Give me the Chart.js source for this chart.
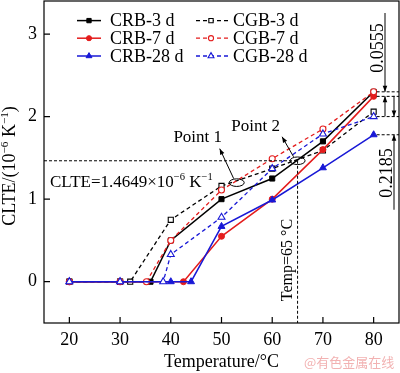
<!DOCTYPE html>
<html>
<head>
<meta charset="utf-8">
<script src="https://cdn.jsdelivr.net/npm/chart.js@4.4.0/dist/chart.umd.min.js"></script>
<style>html,body{margin:0;padding:0;background:#fff}canvas{display:block}</style>
</head>
<body>
<canvas id="chart" width="400" height="373"></canvas>
<script>
// temperatures (°C) and CLTE values (10^-6 K^-1)
const crb3T = [20, 30, 36, 40, 50, 60, 70, 80];
const crb3 = [0, 0, 0, 0.5, 1.0, 1.25, 1.70, 2.30];
const crb7T = [20, 30, 42.5, 50, 60, 70, 80];
const crb7 = [0, 0, 0, 0.55, 1.0, 1.60, 2.245];
const crb28T = [20, 30, 40, 44, 50, 60, 70, 80];
const crb28 = [0, 0, 0, 0, 0.67, 0.99, 1.38, 1.78];
const cgb3T = [20, 30, 32, 40, 50, 60, 70, 80];
const cgb3 = [0, 0, 0, 0.75, 1.16, 1.37, 1.59, 2.06];
const cgb7T = [20, 30, 35.2, 40, 50, 60, 70, 80];
const cgb7 = [0, 0, 0, 0.5, 1.11, 1.49, 1.85, 2.30];
const cgb28T = [20, 30, 38.5, 40, 50, 60, 70, 80];
const cgb28 = [0, 0, 0, 0.33, 0.78, 1.37, 1.79, 2.0];

const xTicks = [20, 30, 40, 50, 60, 70, 80];
const yTicks = [0, 1, 2, 3];

const clteValue = 1.4649;
const tempValue = 65;
const point1 = {x: 53, y: 1.2};

const BLACK = '#000';
const RED = 'rgb(228,28,28)';
const BLUE = 'rgb(24,24,214)';
const serif = '"Liberation Serif", "Times New Roman", serif';

function pts(xs, ys) {
    return xs.map((v, i) => ({x: v, y: ys[i]}));
}

function solid(label, xs, ys, color, style, r) {
    return {
        label: label, data: pts(xs, ys),
        borderColor: color, backgroundColor: color,
        pointBackgroundColor: color, pointBorderColor: color,
        borderWidth: 1.5, pointRadius: r, pointBorderWidth: 1,
        pointStyle: style, tension: 0
    };
}

function dashed(label, xs, ys, color, style, r) {
    return {
        label: label, data: pts(xs, ys),
        borderColor: color, backgroundColor: '#fff',
        pointBackgroundColor: '#fff', pointBorderColor: color,
        borderWidth: 1.3, borderDash: [4, 3], pointRadius: r, pointBorderWidth: 1.1,
        pointStyle: style, tension: 0
    };
}

// index 0 is drawn on top
const sets = [
    dashed('CGB-28 d', cgb28T, cgb28, BLUE, 'triangle', 4),
    solid('CRB-28 d', crb28T, crb28, BLUE, 'triangle', 4),
    dashed('CGB-7 d', cgb7T, cgb7, RED, 'circle', 3),
    solid('CRB-7 d', crb7T, crb7, RED, 'circle', 3),
    dashed('CGB-3 d', cgb3T, cgb3, BLACK, 'rect', 3.6),
    solid('CRB-3 d', crb3T, crb3, BLACK, 'rect', 3.6)
];

function rich(ctx, parts, x, y, size, center) {
    let w = 0;
    parts.forEach(p => {
        ctx.font = (p[1] ? size * 0.62 : size) + 'px ' + serif;
        w += ctx.measureText(p[0]).width;
    });
    let cx = center ? x - w / 2 : x;
    ctx.textAlign = 'left';
    ctx.textBaseline = 'alphabetic';
    parts.forEach(p => {
        ctx.font = (p[1] ? size * 0.62 : size) + 'px ' + serif;
        ctx.fillText(p[0], cx, p[1] ? y - size * 0.4 : y);
        cx += ctx.measureText(p[0]).width;
    });
}

function arrow(ctx, x1, y1, x2, y2) {
    const ang = Math.atan2(y2 - y1, x2 - x1);
    ctx.beginPath();
    ctx.moveTo(x1, y1);
    ctx.lineTo(x2, y2);
    ctx.stroke();
    ctx.beginPath();
    ctx.moveTo(x2, y2);
    ctx.lineTo(x2 - 6 * Math.cos(ang) + 2.3 * Math.sin(ang), y2 - 6 * Math.sin(ang) - 2.3 * Math.cos(ang));
    ctx.lineTo(x2 - 6 * Math.cos(ang) - 2.3 * Math.sin(ang), y2 - 6 * Math.sin(ang) + 2.3 * Math.cos(ang));
    ctx.closePath();
    ctx.fill();
}

function dotted(ctx, x1, y1, x2, y2) {
    ctx.save();
    ctx.setLineDash([3, 2]);
    ctx.lineWidth = 1;
    ctx.beginPath();
    ctx.moveTo(x1, y1);
    ctx.lineTo(x2, y2);
    ctx.stroke();
    ctx.restore();
}

const overlay = {
    id: 'overlay',
    afterDatasetsDraw(chart) {
        const {ctx, chartArea: a, scales: {x, y}} = chart;
        ctx.save();
        ctx.strokeStyle = '#000';
        ctx.fillStyle = '#000';

        // frame and inward ticks
        ctx.lineWidth = 1.2;
        ctx.strokeRect(a.left, a.top, a.right - a.left, a.bottom - a.top);
        ctx.beginPath();
        xTicks.forEach(v => {
            const px = x.getPixelForValue(v);
            ctx.moveTo(px, a.bottom);
            ctx.lineTo(px, a.bottom - 6);
        });
        yTicks.forEach(v => {
            const py = y.getPixelForValue(v);
            ctx.moveTo(a.left, py);
            ctx.lineTo(a.left + 6, py);
        });
        ctx.stroke();

        // reference lines
        const xc = x.getPixelForValue(tempValue);
        const yc = y.getPixelForValue(clteValue);
        dotted(ctx, a.left, yc, xc, yc);
        dotted(ctx, xc, yc, xc, a.bottom);
        ctx.fillStyle = '#000';
        rich(ctx, [['CLTE=1.4649×10'], ['−6', 1], [' K'], ['−1', 1]], a.left + 6, yc + 26, 17, false);

        // Point 1 and Point 2
        ctx.lineWidth = 1;
        const p1x = x.getPixelForValue(point1.x), p1y = y.getPixelForValue(point1.y);
        ctx.beginPath();
        ctx.ellipse(p1x, p1y, 7.5, 3.8, 0, 0, Math.PI * 2);
        ctx.stroke();
        arrow(ctx, p1x - 3, p1y - 4, p1x - 17, p1y - 34);
        ctx.font = '17px ' + serif;
        ctx.textAlign = 'center';
        ctx.textBaseline = 'middle';
        ctx.fillText('Point 1', p1x - 39, p1y - 45);
        ctx.beginPath();
        ctx.ellipse(xc, yc, 7.5, 3.8, 0, 0, Math.PI * 2);
        ctx.stroke();
        arrow(ctx, xc - 4, yc - 4, xc - 15.5, yc - 24);
        ctx.fillText('Point 2', xc - 42, yc - 34);

        ctx.save();
        ctx.translate(xc - 12, 260);
        ctx.rotate(-Math.PI / 2);
        rich(ctx, [['Temp=65 °C']], 0, 6, 16, true);
        ctx.restore();

        // differences at 80 °C
        const x80 = x.getPixelForValue(80);
        const yA = y.getPixelForValue(cgb7[cgb7.length - 1]);
        const yB = y.getPixelForValue(crb7[crb7.length - 1]);
        const yC = y.getPixelForValue(cgb28[cgb28.length - 1]);
        const yD = y.getPixelForValue(crb28[crb28.length - 1]);
        [yA, yB, yC, yD].forEach(v => dotted(ctx, x80 + 3, v, a.right, v));
        ctx.lineWidth = 1;
        arrow(ctx, 385, a.top + 12, 385, yA);
        arrow(ctx, 385, yB + 20, 385, yB);
        arrow(ctx, 394, yA + 4, 394, yC);
        arrow(ctx, 394, yD + 75, 394, yD);
        ctx.save();
        ctx.translate(377, 48);
        ctx.rotate(-Math.PI / 2);
        rich(ctx, [['0.0555']], 0, 6, 18, true);
        ctx.restore();
        ctx.save();
        ctx.translate(386, 173);
        ctx.rotate(-Math.PI / 2);
        rich(ctx, [['0.2185']], 0, 6, 18, true);
        ctx.restore();

        // legend
        const rows = [20.6, 38.2, 56];
        const leg = [
            [sets[5], sets[4]],
            [sets[3], sets[2]],
            [sets[1], sets[0]]
        ];
        leg.forEach((pair, i) => {
            const ry = rows[i];
            [[pair[0], 77, 101, 89, 110], [pair[1], 196, 228, 211, 233]].forEach(c => {
                const ds = c[0];
                ctx.save();
                ctx.strokeStyle = ds.borderColor;
                ctx.lineWidth = ds.borderWidth;
                ctx.setLineDash(ds.borderDash || []);
                ctx.beginPath();
                ctx.moveTo(c[1], ry);
                ctx.lineTo(c[2], ry);
                ctx.stroke();
                ctx.setLineDash([]);
                ctx.fillStyle = ds.pointBackgroundColor;
                ctx.lineWidth = ds.pointBorderWidth;
                Chart.helpers.drawPoint(ctx, {pointStyle: ds.pointStyle, radius: ds.pointRadius * 0.85, rotation: 0, borderWidth: ds.pointBorderWidth}, c[3], ry);
                ctx.restore();
                ctx.fillStyle = '#000';
                ctx.font = '18px ' + serif;
                ctx.textAlign = 'left';
                ctx.textBaseline = 'middle';
                ctx.fillText(ds.label, c[4], ry + 1);
            });
        });

        // axis titles
        ctx.fillStyle = '#000';
        ctx.font = '18px ' + serif;
        ctx.textAlign = 'center';
        ctx.textBaseline = 'middle';
        ctx.fillText('Temperature/°C', (a.left + a.right) / 2, 362);
        ctx.save();
        ctx.translate(9, 166);
        ctx.rotate(-Math.PI / 2);
        rich(ctx, [['CLTE/(10'], ['−6', 1], [' K'], ['−1', 1], [')']], 0, 6, 18, true);
        ctx.restore();

        // watermark
        ctx.fillStyle = 'rgb(242,178,178)';
        ctx.font = '13px "Noto Sans CJK SC", sans-serif';
        ctx.textAlign = 'left';
        ctx.fillText('@有色金属在线', 304, 362);
        ctx.restore();
    }
};

new Chart(document.getElementById('chart'), {
    type: 'line',
    data: {datasets: sets},
    options: {
        responsive: false,
        animation: false,
        layout: {autoPadding: false, padding: {top: 1, right: 1, left: 0, bottom: 0}},
        plugins: {legend: {display: false}, tooltip: {enabled: false}},
        scales: {
            x: {
                type: 'linear', min: 15, max: 85,
                afterBuildTicks: s => { s.ticks = xTicks.map(v => ({value: v})); },
                afterFit: s => { s.height = 50; s.paddingLeft = 0; s.paddingRight = 0; },
                grid: {display: false, drawTicks: false, tickLength: 0},
                border: {display: false},
                ticks: {color: '#000', font: {family: serif, size: 18}, padding: 6, maxRotation: 0}
            },
            y: {
                type: 'linear', min: -0.5, max: 3.4,
                afterBuildTicks: s => { s.ticks = yTicks.map(v => ({value: v})); },
                afterFit: s => { s.width = 44; s.paddingTop = 0; s.paddingBottom = 0; },
                grid: {display: false, drawTicks: false, tickLength: 0},
                border: {display: false},
                ticks: {color: '#000', font: {family: serif, size: 18}, padding: 7}
            }
        }
    },
    plugins: [overlay]
});
</script>
</body>
</html>
